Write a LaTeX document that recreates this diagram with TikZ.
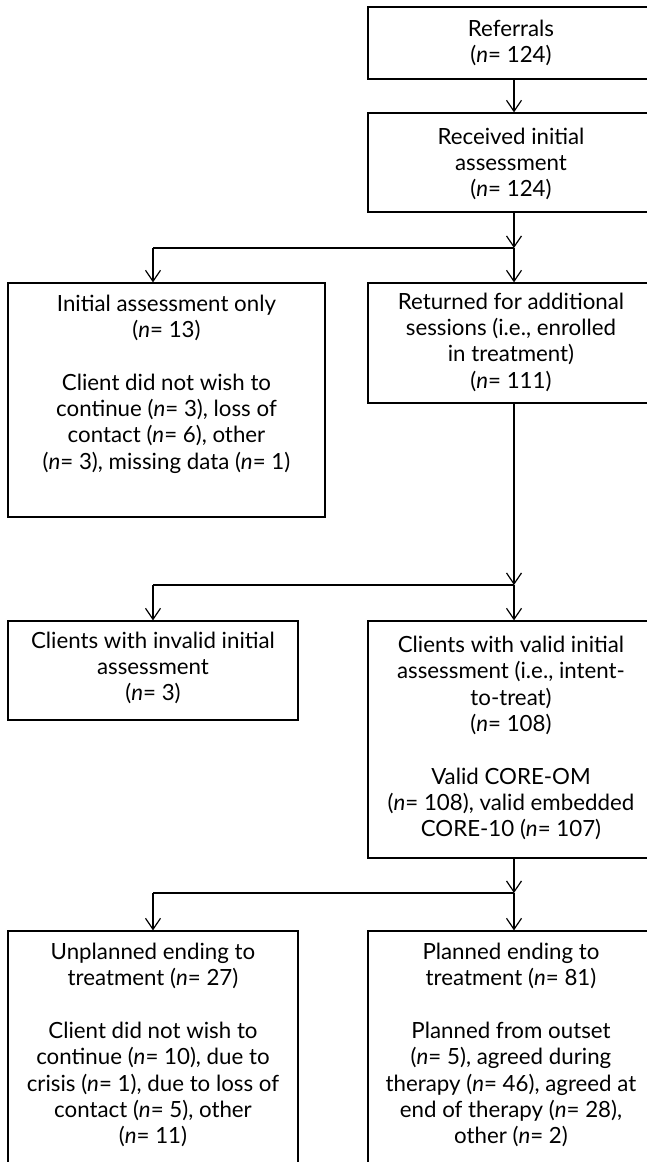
\documentclass[tikz,border=0pt]{standalone}
\usepackage{fontspec}
\setmainfont{Lato}
\usetikzlibrary{arrows.meta}
\begin{document}
\begin{tikzpicture}[x=1pt,y=-1pt,
 box/.style={draw, line width=1.3pt, rectangle, inner sep=0pt},
 txt/.style={align=center, inner sep=0pt, font=\fontsize{22.3}{26.3}\selectfont},
 arr/.style={line width=1.2pt, -{Straight Barb[length=11pt,width=15pt,line width=1.2pt]}},
 con/.style={line width=1.2pt}]
\useasboundingbox (0,0) rectangle (647,1162);
\clip (0,0) rectangle (647,1162);
% boxes
\node[box, minimum width=292pt, minimum height=72pt] (b1) at (514,43) {};
\node[box, minimum width=292pt, minimum height=99pt] (b2) at (514,162.5) {};
\node[box, minimum width=317pt, minimum height=234pt] (b3) at (166.5,400) {};
\node[box, minimum width=292pt, minimum height=120pt] (b4) at (514,343) {};
\node[box, minimum width=290pt, minimum height=99pt] (b5) at (153,670.5) {};
\node[box, minimum width=292pt, minimum height=237pt] (b6) at (514,739.5) {};
\node[box, minimum width=290pt, minimum height=269pt] (b7) at (153,1065.5) {};
\node[box, minimum width=292pt, minimum height=269pt] (b8) at (514,1065.5) {};
% texts
\node[txt] (t1) at (511,43) {Referrals\\(\textit{n}= 124)};
\node[txt] (t2) at (511,164) {Received initial\\assessment\\(\textit{n}= 124)};
\node[txt] (t3) at (166.5,384) {Initial assessment only\\(\textit{n}= 13)\\[26.3pt]Client did not wish to\\continue (\textit{n}= 3), loss of\\contact (\textit{n}= 6), other\\(\textit{n}= 3), missing data (\textit{n}= 1)};
\node[txt] (t4) at (511,342) {Returned for additional\\sessions (i.e., enrolled\\in treatment)\\(\textit{n}= 111)};
\node[txt] (t5) at (153,668) {Clients with invalid initial\\assessment\\(\textit{n}= 3)};
\node[txt] (t6) at (511,738) {Clients with valid initial\\assessment (i.e., intent-\\to-treat)\\(\textit{n}= 108)\\[26.3pt]Valid CORE-OM\\(\textit{n}= 108), valid embedded\\CORE-10 (\textit{n}= 107)};
\node[txt] (t7) at (153,1045) {Unplanned ending to\\treatment (\textit{n}= 27)\\[26.3pt]Client did not wish to\\continue (\textit{n}= 10), due to\\crisis (\textit{n}= 1), due to loss of\\contact (\textit{n}= 5), other\\(\textit{n}= 11)};
\node[txt] (t8) at (511,1045) {Planned ending to\\treatment (\textit{n}= 81)\\[26.3pt]Planned from outset\\(\textit{n}= 5), agreed during\\therapy (\textit{n}= 46), agreed at\\end of therapy (\textit{n}= 28),\\other (\textit{n}= 2)};
% junctions
\coordinate (j1) at (514,248);
\coordinate (jl1) at (153,248);
\coordinate (j2) at (514,585);
\coordinate (jl2) at (153,585);
\coordinate (j3) at (514,893);
\coordinate (jl3) at (153,893);
% connectors
\draw[arr] (b1.south) -- (b2.north);
\draw[arr] (b2.south) -- (j1);
\draw[con] (j1) -- (jl1);
\draw[arr] (jl1) -- (jl1 |- b3.north);
\draw[arr] (j1) -- (b4.north);
\draw[arr] (b4.south) -- (j2);
\draw[con] (j2) -- (jl2);
\draw[arr] (jl2) -- (b5.north);
\draw[arr] (j2) -- (b6.north);
\draw[arr] (b6.south) -- (j3);
\draw[con] (j3) -- (jl3);
\draw[arr] (jl3) -- (b7.north);
\draw[arr] (j3) -- (b8.north);
\end{tikzpicture}
\end{document}
